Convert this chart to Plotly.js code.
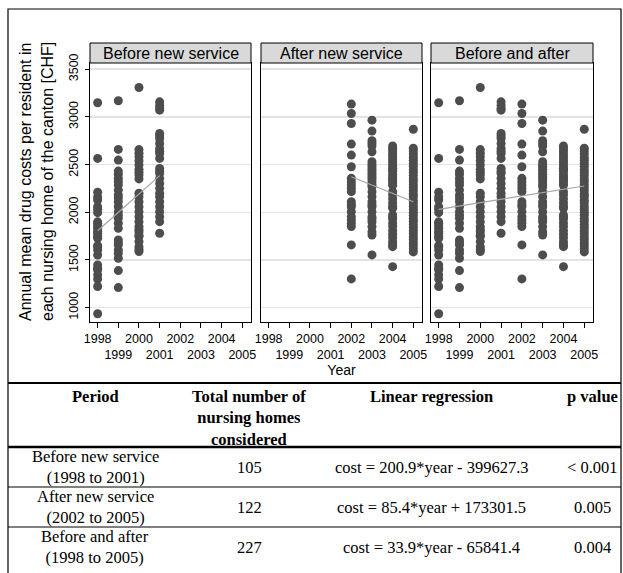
<!DOCTYPE html>
<html>
<head>
<meta charset="utf-8">
<script src="https://cdn.plot.ly/plotly-3.0.1.min.js"></script>
<style>html,body{margin:0;padding:0;background:#fff;}#chart{width:623px;height:573px;}</style>
</head>
<body>
<div id="chart"></div>
<script>
// ---------------- data ----------------
const years = [1998, 1999, 2000, 2001, 2002, 2003, 2004, 2005];
const yearLabels = ['1998', '1999', '2000', '2001', '2002', '2003', '2004', '2005'];
const costTicks = [1000, 1500, 2000, 2500, 3000, 3500];

const cost1998 = [3148, 2565, 2210, 2160, 2129, 2060, 2031, 1996, 1900, 1885, 1860, 1832, 1800, 1780, 1750, 1728, 1650, 1640, 1605, 1552, 1448, 1413, 1396, 1344, 1300, 1222, 936];
const cost1999 = [3169, 2659, 2547, 2432, 2400, 2356, 2320, 2286, 2233, 2181, 2150, 2111, 2059, 2007, 1970, 1937, 1885, 1832, 1710, 1680, 1658, 1605, 1571, 1518, 1389, 1211];
const cost2000 = [3308, 2657, 2620, 2582, 2540, 2495, 2450, 2420, 2390, 2350, 2200, 2164, 2111, 2059, 2007, 1954, 1902, 1850, 1820, 1797, 1760, 1745, 1693, 1640, 1610, 1588];
const cost2001 = [3158, 3120, 3090, 3071, 2827, 2800, 2774, 2722, 2670, 2640, 2617, 2565, 2460, 2430, 2408, 2356, 2303, 2251, 2200, 2164, 2111, 2059, 2007, 1954, 1902, 1780];
const cost2002 = [3134, 3036, 2931, 2715, 2600, 2478, 2356, 2320, 2286, 2250, 2216, 2111, 2080, 2059, 2007, 1954, 1920, 1885, 1850, 1658, 1302];
const cost2003 = [2966, 2851, 2750, 2720, 2694, 2635, 2530, 2500, 2478, 2450, 2425, 2400, 2373, 2350, 2321, 2290, 2268, 2216, 2164, 2111, 2080, 2059, 2007, 1954, 1930, 1902, 1850, 1797, 1762, 1553];
const cost2004 = [2695, 2668, 2642, 2610, 2583, 2551, 2522, 2490, 2463, 2450, 2431, 2398, 2372, 2350, 2338, 2310, 2284, 2216, 2182, 2141, 2100, 2063, 2042, 1972, 1950, 1931, 1889, 1852, 1808, 1771, 1733, 1692, 1661, 1640, 1430];
const cost2005 = [2870, 2671, 2642, 2610, 2575, 2546, 2511, 2482, 2447, 2418, 2385, 2350, 2322, 2290, 2257, 2226, 2190, 2163, 2127, 2098, 2061, 2030, 1998, 1969, 1933, 1905, 1871, 1840, 1807, 1776, 1742, 1713, 1679, 1648, 1617, 1585];

// fitted lines
const fitBeforeYears = [1998, 2001];
const fitBeforeCost = [1807, 2384];
const fitAfterYears = [2002, 2005];
const fitAfterCost = [2373, 2111];
const fitAllYears = [1998, 2005];
const fitAllCost = [2031, 2276];

const panelTitles = ['Before new service', 'After new service', 'Before and after'];
const yTitleLines = ['Annual mean drug costs per resident in', 'each nursing home of the canton [CHF]'];
const xTitle = 'Year';

// table
const tableHeaders = [['Period'], ['Total number of', 'nursing homes', 'considered'], ['Linear regression'], ['p value']];
const periodNames = ['Before new service', 'After new service', 'Before and after'];
const periodRanges = ['(1998 to 2001)', '(2002 to 2005)', '(1998 to 2005)'];
const homeCounts = ['105', '122', '227'];
const regressions = ['cost = 200.9*year - 399627.3', 'cost = 85.4*year + 173301.5', 'cost = 33.9*year - 65841.4'];
const pValues = ['&lt; 0.001', '0.005', '0.004'];

// ---------------- build ----------------
const W = 623, H = 573;
const px = v => v / W;
const py = v => 1 - v / H;

const costsByYear = [cost1998, cost1999, cost2000, cost2001, cost2002, cost2003, cost2004, cost2005];
function collect(yearList) {
  const xs = [], ys = [];
  yearList.forEach(yr => {
    const arr = costsByYear[years.indexOf(yr)];
    arr.forEach(c => { xs.push(yr); ys.push(c); });
  });
  return {xs, ys};
}
const before = collect([1998, 1999, 2000, 2001]);
const after = collect([2002, 2003, 2004, 2005]);
const all = collect(years);

const markerStyle = {color: '#4d4d4d', size: 9};
const lineStyle = {color: '#a6a6a6', width: 1.2};

const traces = [
  {x: before.xs, y: before.ys, type: 'scatter', mode: 'markers', marker: markerStyle, xaxis: 'x', yaxis: 'y', hoverinfo: 'skip'},
  {x: fitBeforeYears, y: fitBeforeCost, type: 'scatter', mode: 'lines', line: lineStyle, xaxis: 'x', yaxis: 'y'},
  {x: after.xs, y: after.ys, type: 'scatter', mode: 'markers', marker: markerStyle, xaxis: 'x2', yaxis: 'y2', hoverinfo: 'skip'},
  {x: fitAfterYears, y: fitAfterCost, type: 'scatter', mode: 'lines', line: lineStyle, xaxis: 'x2', yaxis: 'y2'},
  {x: all.xs, y: all.ys, type: 'scatter', mode: 'markers', marker: markerStyle, xaxis: 'x3', yaxis: 'y3', hoverinfo: 'skip'},
  {x: fitAllYears, y: fitAllCost, type: 'scatter', mode: 'lines', line: lineStyle, xaxis: 'x3', yaxis: 'y3'}
];

const panelPx = [[90, 251], [261, 422], [431, 593]];
const plotTop = 63, plotBottom = 322, stripTop = 43;
const yDomain = [py(plotBottom), py(plotTop)];
const xRange = [1997.63, 2005.42];
const yRange = [850, 3565];

const tickText = yearLabels.map((t, i) => (i % 2 === 0 ? t : '<br>' + t));

function xAxis(i) {
  return {
    domain: [px(panelPx[i][0]), px(panelPx[i][1])],
    range: xRange, anchor: i === 0 ? 'y' : 'y' + (i + 1),
    tickmode: 'array', tickvals: years, ticktext: tickText,
    ticks: 'outside', ticklen: 5, tickwidth: 1, tickcolor: '#000',
    tickfont: {size: 12.5, color: '#000'}, tickangle: 0,
    showline: true, mirror: true, linecolor: '#000', linewidth: 1,
    showgrid: false, zeroline: false
  };
}
function yAxis(i) {
  return {
    domain: yDomain, range: yRange, anchor: i === 0 ? 'x' : 'x' + (i + 1),
    tickmode: 'array', tickvals: costTicks,
    ticks: i === 0 ? 'outside' : '', ticklen: 4, tickwidth: 1, tickcolor: '#000',
    showticklabels: i === 0, tickangle: -90, ticklabelstandoff: 2,
    tickfont: {size: 12.5, color: '#000'},
    showgrid: true, gridcolor: '#e3e3e3', gridwidth: 1.5,
    showline: true, mirror: true, linecolor: '#000', linewidth: 1,
    zeroline: false
  };
}

const layout = {
  width: W, height: H,
  margin: {l: 0, r: 0, t: 0, b: 0},
  paper_bgcolor: '#fff', plot_bgcolor: '#fff',
  showlegend: false,
  font: {family: 'Liberation Sans, Arial, sans-serif', color: '#000'},
  xaxis: xAxis(0), xaxis2: Object.assign(xAxis(1), {title: {text: xTitle, font: {size: 14}, standoff: 2}}), xaxis3: xAxis(2),
  yaxis: yAxis(0), yaxis2: yAxis(1), yaxis3: yAxis(2),
  shapes: [], annotations: []
};

// outer frame
layout.shapes.push({type: 'rect', xref: 'paper', yref: 'paper', x0: px(8), x1: px(621), y0: py(9), y1: py(600), line: {color: '#000', width: 1.2}, fillcolor: 'rgba(0,0,0,0)'});

// strips
panelPx.forEach((p, i) => {
  layout.shapes.push({type: 'rect', xref: 'paper', yref: 'paper', x0: px(p[0]), x1: px(p[1]), y0: py(plotTop), y1: py(stripTop), line: {color: '#000', width: 1}, fillcolor: '#d9d9d9'});
  layout.annotations.push({xref: 'paper', yref: 'paper', x: px((p[0] + p[1]) / 2), y: py((plotTop + stripTop) / 2), text: panelTitles[i], showarrow: false, xanchor: 'center', yanchor: 'middle', font: {size: 16, color: '#000'}});
});

// y title
[25, 47].forEach((xp, i) => {
  layout.annotations.push({xref: 'paper', yref: 'paper', x: px(xp), y: py(182), text: yTitleLines[i], textangle: -90, showarrow: false, xanchor: 'center', yanchor: 'middle', font: {size: 16, color: '#000'}});
});

// table
const serif = 'Liberation Serif, Times New Roman, serif';
const tfs = 16.5;
const colX = [95, 249, 432, 592];
const tableLines = [[383, 2], [447, 2.5], [487, 1], [527, 1]];
tableLines.forEach(l => {
  layout.shapes.push({type: 'line', xref: 'paper', yref: 'paper', x0: px(8), x1: px(621), y0: py(l[0]), y1: py(l[0]), line: {color: '#000', width: l[1]}});
});
function cell(x, y, text, bold, yanchor) {
  layout.annotations.push({xref: 'paper', yref: 'paper', x: px(x), y: py(y), text: bold ? '<b>' + text + '</b>' : text, showarrow: false, xanchor: 'center', yanchor: yanchor || 'middle', align: 'center', font: {family: serif, size: tfs, color: '#000'}});
}
tableHeaders.forEach((lines, i) => {
  cell(colX[i], 385, lines.map(ln => '<b>' + ln + '</b>').join('<br>'), false, 'top');
});
const rowCenters = [467, 507, 547];
periodNames.forEach((name, r) => {
  const yc = rowCenters[r];
  cell(colX[0], yc, name + '<br>' + periodRanges[r], false);
  cell(colX[1], yc, homeCounts[r], false);
  cell(colX[2], yc, regressions[r], false);
  cell(colX[3], yc, pValues[r], false);
});

Plotly.newPlot('chart', traces, layout, {staticPlot: true, displayModeBar: false});
</script>
</body>
</html>
